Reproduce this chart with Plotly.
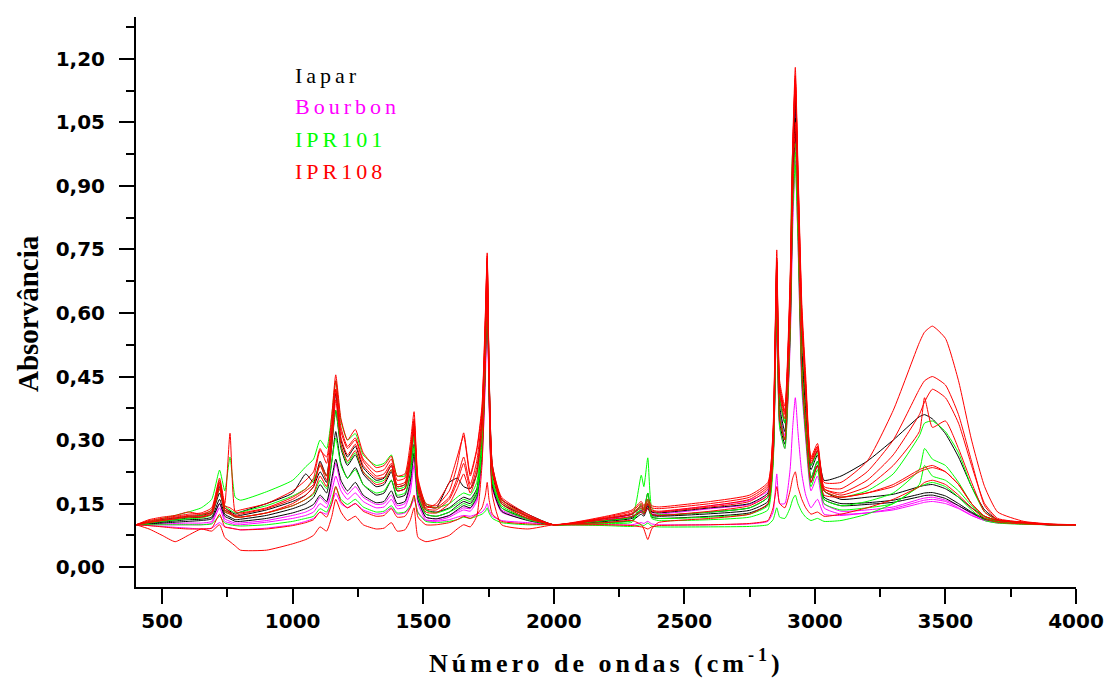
import plotly.graph_objects as go

# Wavenumber grid (cm-1)
WAVENUMBERS = [400, 450, 500, 550, 600, 650, 690, 720, 740, 760,
               780, 800, 900, 1000, 1050, 1080, 1105, 1130, 1150, 1165,
               1185, 1210, 1240, 1270, 1320, 1350, 1378, 1400, 1430, 1450,
               1465, 1480, 1510, 1550, 1600, 1630, 1655, 1680, 1705, 1725,
               1738, 1745, 1752, 1765, 1800, 1900, 2000, 2200, 2300, 2335,
               2345, 2360, 2375, 2400, 2600, 2750, 2820, 2840, 2854, 2865,
               2885, 2905, 2915, 2925, 2935, 2950, 2965, 2985, 3010, 3035,
               3100, 3200, 3300, 3400, 3420, 3450, 3500, 3550, 3600, 3650, 3700,
               3800, 3900, 4000]

# Bourbon (magenta)
BOURBON_1 = [0.100, 0.098, 0.096, 0.094, 0.092, 0.090, 0.092, 0.105, 0.095, 0.093,
             0.090, 0.088, 0.092, 0.100, 0.108, 0.115, 0.130, 0.125, 0.150, 0.175,
             0.150, 0.140, 0.150, 0.135, 0.125, 0.128, 0.140, 0.125, 0.128, 0.140,
             0.160, 0.130, 0.110, 0.108, 0.112, 0.118, 0.122, 0.120, 0.125, 0.130,
             0.140, 0.150, 0.135, 0.120, 0.110, 0.105, 0.100, 0.100, 0.100, 0.105,
             0.103, 0.108, 0.102, 0.100, 0.100, 0.102, 0.108, 0.130, 0.220, 0.150,
             0.150, 0.230, 0.330, 0.400, 0.320, 0.220, 0.170, 0.140, 0.160, 0.125,
             0.122, 0.128, 0.138, 0.155, 0.158, 0.160, 0.155, 0.140, 0.122, 0.110, 0.104,
             0.102, 0.100, 0.100]
BOURBON_2 = [0.100, 0.100, 0.100, 0.100, 0.100, 0.100, 0.104, 0.140, 0.108, 0.104,
             0.100, 0.100, 0.106, 0.115, 0.122, 0.130, 0.150, 0.140, 0.180, 0.215,
             0.180, 0.160, 0.175, 0.155, 0.140, 0.142, 0.160, 0.138, 0.142, 0.175,
             0.240, 0.150, 0.112, 0.110, 0.118, 0.128, 0.135, 0.132, 0.155, 0.250,
             0.440, 0.620, 0.400, 0.185, 0.130, 0.112, 0.100, 0.110, 0.120, 0.132,
             0.128, 0.138, 0.126, 0.125, 0.138, 0.148, 0.170, 0.260, 0.600, 0.330,
             0.280, 0.520, 0.800, 0.960, 0.770, 0.420, 0.300, 0.180, 0.215, 0.140,
             0.125, 0.128, 0.135, 0.150, 0.153, 0.155, 0.150, 0.138, 0.122, 0.110, 0.105,
             0.102, 0.100, 0.100]
BOURBON_3 = [0.100, 0.101, 0.102, 0.103, 0.104, 0.104, 0.108, 0.150, 0.114, 0.108,
             0.104, 0.104, 0.110, 0.122, 0.130, 0.140, 0.165, 0.150, 0.200, 0.245,
             0.195, 0.172, 0.190, 0.165, 0.148, 0.150, 0.170, 0.145, 0.150, 0.190,
             0.260, 0.160, 0.118, 0.114, 0.122, 0.132, 0.140, 0.138, 0.160, 0.265,
             0.470, 0.670, 0.420, 0.195, 0.135, 0.114, 0.100, 0.112, 0.125, 0.140,
             0.132, 0.145, 0.130, 0.130, 0.145, 0.158, 0.180, 0.290, 0.680, 0.370,
             0.310, 0.580, 0.900, 1.080, 0.860, 0.480, 0.350, 0.210, 0.240, 0.150,
             0.132, 0.135, 0.142, 0.160, 0.163, 0.165, 0.158, 0.145, 0.126, 0.112, 0.106,
             0.102, 0.100, 0.100]

# Iapar (black)
IAPAR_1 = [0.100, 0.104, 0.108, 0.112, 0.116, 0.118, 0.125, 0.175, 0.135, 0.128,
           0.120, 0.122, 0.135, 0.155, 0.170, 0.190, 0.225, 0.200, 0.290, 0.370,
           0.280, 0.240, 0.265, 0.220, 0.190, 0.195, 0.225, 0.180, 0.185, 0.240,
           0.315, 0.190, 0.135, 0.130, 0.140, 0.155, 0.165, 0.160, 0.185, 0.300,
           0.520, 0.690, 0.450, 0.220, 0.150, 0.120, 0.100, 0.110, 0.118, 0.135,
           0.128, 0.150, 0.125, 0.122, 0.130, 0.140, 0.165, 0.280, 0.680, 0.380,
           0.320, 0.600, 0.920, 1.100, 0.880, 0.500, 0.370, 0.230, 0.265, 0.180,
           0.160, 0.165, 0.172, 0.190, 0.193, 0.195, 0.185, 0.165, 0.140, 0.120, 0.110,
           0.104, 0.100, 0.100]
IAPAR_2 = [0.100, 0.106, 0.112, 0.116, 0.120, 0.122, 0.130, 0.190, 0.140, 0.132,
           0.125, 0.130, 0.150, 0.175, 0.220, 0.200, 0.250, 0.215, 0.320, 0.410,
           0.300, 0.260, 0.285, 0.235, 0.205, 0.210, 0.240, 0.190, 0.195, 0.250,
           0.330, 0.200, 0.145, 0.140, 0.200, 0.210, 0.190, 0.185, 0.220, 0.350,
           0.560, 0.700, 0.470, 0.240, 0.160, 0.125, 0.100, 0.115, 0.125, 0.145,
           0.135, 0.175, 0.130, 0.128, 0.140, 0.150, 0.175, 0.300, 0.700, 0.400,
           0.340, 0.620, 0.950, 1.120, 0.900, 0.520, 0.390, 0.240, 0.275, 0.205,
           0.215, 0.250, 0.300, 0.355, 0.360, 0.350, 0.315, 0.260, 0.190, 0.135, 0.112,
           0.105, 0.101, 0.100]
IAPAR_3 = [0.100, 0.103, 0.106, 0.109, 0.112, 0.113, 0.118, 0.160, 0.125, 0.118,
           0.112, 0.113, 0.122, 0.138, 0.150, 0.165, 0.195, 0.175, 0.250, 0.320,
           0.245, 0.210, 0.235, 0.195, 0.170, 0.175, 0.205, 0.165, 0.170, 0.220,
           0.290, 0.170, 0.125, 0.120, 0.130, 0.145, 0.155, 0.150, 0.175, 0.280,
           0.500, 0.680, 0.430, 0.200, 0.140, 0.115, 0.100, 0.108, 0.115, 0.130,
           0.125, 0.145, 0.122, 0.120, 0.126, 0.134, 0.155, 0.260, 0.650, 0.360,
           0.300, 0.570, 0.880, 1.060, 0.840, 0.470, 0.340, 0.210, 0.250, 0.165,
           0.150, 0.152, 0.158, 0.172, 0.175, 0.176, 0.168, 0.150, 0.130, 0.115, 0.108,
           0.103, 0.100, 0.100]
IAPAR_4 = [0.100, 0.102, 0.104, 0.106, 0.108, 0.110, 0.114, 0.150, 0.120, 0.114,
           0.108, 0.108, 0.115, 0.128, 0.138, 0.148, 0.170, 0.155, 0.210, 0.255,
           0.205, 0.180, 0.200, 0.170, 0.152, 0.155, 0.180, 0.150, 0.155, 0.200,
           0.270, 0.160, 0.118, 0.114, 0.122, 0.135, 0.145, 0.140, 0.165, 0.270,
           0.480, 0.660, 0.420, 0.190, 0.132, 0.110, 0.100, 0.105, 0.110, 0.125,
           0.120, 0.140, 0.118, 0.115, 0.120, 0.128, 0.148, 0.250, 0.620, 0.340,
           0.290, 0.550, 0.860, 1.030, 0.820, 0.450, 0.320, 0.200, 0.240, 0.160,
           0.145, 0.148, 0.153, 0.166, 0.169, 0.170, 0.162, 0.145, 0.128, 0.113, 0.107,
           0.103, 0.100, 0.100]

# IPR101 (green)
IPR101_1 = [0.100, 0.108, 0.115, 0.122, 0.130, 0.140, 0.160, 0.229, 0.180, 0.260,
            0.165, 0.158, 0.178, 0.205, 0.237, 0.255, 0.300, 0.280, 0.360, 0.440,
            0.345, 0.300, 0.315, 0.265, 0.240, 0.245, 0.265, 0.215, 0.215, 0.270,
            0.345, 0.200, 0.150, 0.140, 0.150, 0.165, 0.175, 0.170, 0.200, 0.320,
            0.540, 0.720, 0.460, 0.230, 0.155, 0.120, 0.100, 0.110, 0.120, 0.217,
            0.190, 0.258, 0.140, 0.125, 0.130, 0.140, 0.165, 0.290, 0.720, 0.400,
            0.340, 0.640, 0.980, 1.000, 0.880, 0.560, 0.400, 0.240, 0.270, 0.180,
            0.165, 0.180, 0.220, 0.310, 0.340, 0.345, 0.320, 0.270, 0.190, 0.130, 0.110,
            0.105, 0.101, 0.100]
IPR101_2 = [0.100, 0.105, 0.110, 0.114, 0.118, 0.122, 0.135, 0.200, 0.145, 0.135,
            0.128, 0.130, 0.145, 0.168, 0.185, 0.205, 0.240, 0.215, 0.300, 0.370,
            0.285, 0.245, 0.270, 0.225, 0.200, 0.205, 0.230, 0.185, 0.190, 0.240,
            0.310, 0.180, 0.135, 0.128, 0.138, 0.150, 0.160, 0.155, 0.180, 0.290,
            0.510, 0.690, 0.440, 0.210, 0.145, 0.115, 0.100, 0.105, 0.110, 0.150,
            0.135, 0.175, 0.120, 0.115, 0.118, 0.125, 0.145, 0.260, 0.660, 0.360,
            0.300, 0.580, 0.900, 0.980, 0.820, 0.480, 0.340, 0.210, 0.250, 0.160,
            0.145, 0.155, 0.175, 0.230, 0.280, 0.255, 0.240, 0.200, 0.150, 0.118, 0.108,
            0.103, 0.100, 0.100]
IPR101_3 = [0.100, 0.100, 0.100, 0.100, 0.100, 0.100, 0.102, 0.120, 0.104, 0.100,
            0.098, 0.097, 0.100, 0.108, 0.115, 0.120, 0.138, 0.130, 0.160, 0.190,
            0.160, 0.148, 0.160, 0.142, 0.130, 0.132, 0.145, 0.128, 0.130, 0.145,
            0.165, 0.128, 0.108, 0.105, 0.108, 0.112, 0.118, 0.115, 0.120, 0.125,
            0.132, 0.140, 0.128, 0.115, 0.105, 0.100, 0.100, 0.098, 0.096, 0.100,
            0.098, 0.104, 0.097, 0.095, 0.095, 0.096, 0.100, 0.112, 0.140, 0.118,
            0.115, 0.140, 0.160, 0.170, 0.150, 0.130, 0.118, 0.110, 0.115, 0.108,
            0.110, 0.125, 0.150, 0.190, 0.195, 0.200, 0.190, 0.165, 0.135, 0.110, 0.104,
            0.101, 0.100, 0.100]
IPR101_4 = [0.100, 0.104, 0.108, 0.111, 0.114, 0.116, 0.124, 0.185, 0.132, 0.125,
            0.118, 0.118, 0.128, 0.145, 0.160, 0.172, 0.205, 0.185, 0.250, 0.305,
            0.240, 0.210, 0.230, 0.195, 0.175, 0.180, 0.205, 0.170, 0.175, 0.215,
            0.285, 0.165, 0.125, 0.120, 0.130, 0.140, 0.150, 0.145, 0.170, 0.275,
            0.490, 0.670, 0.430, 0.200, 0.140, 0.112, 0.100, 0.103, 0.106, 0.140,
            0.128, 0.160, 0.115, 0.110, 0.112, 0.118, 0.135, 0.240, 0.620, 0.330,
            0.280, 0.540, 0.840, 0.950, 0.780, 0.440, 0.310, 0.190, 0.230, 0.150,
            0.135, 0.140, 0.150, 0.195, 0.240, 0.215, 0.205, 0.180, 0.145, 0.115, 0.106,
            0.102, 0.100, 0.100]

# IPR108 (red)
IPR108_1 = [0.100, 0.110, 0.115, 0.120, 0.125, 0.128, 0.140, 0.210, 0.150, 0.316,
            0.130, 0.128, 0.140, 0.165, 0.185, 0.210, 0.275, 0.260, 0.360, 0.454,
            0.350, 0.300, 0.325, 0.270, 0.235, 0.240, 0.262, 0.215, 0.220, 0.290,
            0.367, 0.210, 0.150, 0.145, 0.180, 0.240, 0.317, 0.220, 0.279, 0.380,
            0.600, 0.742, 0.480, 0.240, 0.165, 0.125, 0.100, 0.118, 0.132, 0.150,
            0.140, 0.155, 0.140, 0.138, 0.150, 0.165, 0.195, 0.330, 0.749, 0.440,
            0.380, 0.680, 1.000, 1.180, 0.950, 0.620, 0.450, 0.260, 0.292, 0.200,
            0.200, 0.250, 0.370, 0.530, 0.555, 0.569, 0.540, 0.440, 0.300, 0.190, 0.130,
            0.108, 0.102, 0.100]
IPR108_2 = [0.100, 0.108, 0.113, 0.118, 0.122, 0.125, 0.135, 0.205, 0.145, 0.140,
            0.132, 0.135, 0.150, 0.180, 0.205, 0.225, 0.280, 0.245, 0.340, 0.440,
            0.330, 0.285, 0.305, 0.255, 0.225, 0.230, 0.255, 0.205, 0.210, 0.270,
            0.350, 0.205, 0.145, 0.140, 0.165, 0.210, 0.260, 0.195, 0.250, 0.360,
            0.580, 0.730, 0.470, 0.235, 0.160, 0.122, 0.100, 0.120, 0.135, 0.155,
            0.145, 0.160, 0.145, 0.142, 0.155, 0.170, 0.200, 0.320, 0.730, 0.430,
            0.370, 0.660, 0.990, 1.150, 0.930, 0.600, 0.430, 0.255, 0.285, 0.190,
            0.185, 0.225, 0.300, 0.420, 0.440, 0.450, 0.430, 0.360, 0.250, 0.145, 0.112,
            0.106, 0.101, 0.100]
IPR108_3 = [0.100, 0.090, 0.075, 0.060, 0.075, 0.090, 0.085, 0.100, 0.070, 0.060,
            0.050, 0.040, 0.040, 0.055, 0.065, 0.075, 0.095, 0.085, 0.120, 0.160,
            0.130, 0.110, 0.120, 0.100, 0.090, 0.092, 0.105, 0.085, 0.088, 0.110,
            0.140, 0.070, 0.060, 0.065, 0.075, 0.090, 0.100, 0.095, 0.120, 0.240,
            0.470, 0.660, 0.410, 0.170, 0.100, 0.090, 0.100, 0.105, 0.110, 0.100,
            0.090, 0.065, 0.090, 0.105, 0.115, 0.125, 0.150, 0.260, 0.640, 0.350,
            0.300, 0.560, 0.870, 1.050, 0.830, 0.460, 0.330, 0.200, 0.240, 0.170,
            0.165, 0.175, 0.190, 0.225, 0.230, 0.235, 0.225, 0.195, 0.150, 0.120, 0.110,
            0.105, 0.100, 0.100]
IPR108_4 = [0.100, 0.112, 0.118, 0.122, 0.130, 0.125, 0.130, 0.200, 0.140, 0.130,
            0.120, 0.118, 0.128, 0.150, 0.170, 0.190, 0.245, 0.215, 0.320, 0.420,
            0.320, 0.280, 0.300, 0.250, 0.215, 0.220, 0.245, 0.195, 0.200, 0.265,
            0.345, 0.195, 0.140, 0.150, 0.200, 0.260, 0.310, 0.215, 0.275, 0.370,
            0.590, 0.735, 0.470, 0.230, 0.160, 0.120, 0.100, 0.115, 0.125, 0.140,
            0.130, 0.150, 0.132, 0.130, 0.142, 0.155, 0.185, 0.310, 0.720, 0.420,
            0.360, 0.650, 0.970, 1.150, 0.920, 0.590, 0.420, 0.250, 0.280, 0.185,
            0.170, 0.190, 0.240, 0.320, 0.400, 0.330, 0.345, 0.280, 0.200, 0.130, 0.112,
            0.106, 0.101, 0.100]
IPR108_5 = [0.100, 0.106, 0.110, 0.114, 0.118, 0.118, 0.125, 0.185, 0.130, 0.125,
            0.118, 0.118, 0.128, 0.145, 0.160, 0.175, 0.215, 0.190, 0.290, 0.395,
            0.290, 0.250, 0.275, 0.225, 0.195, 0.200, 0.230, 0.180, 0.185, 0.245,
            0.325, 0.180, 0.130, 0.128, 0.150, 0.185, 0.220, 0.175, 0.220, 0.320,
            0.560, 0.720, 0.460, 0.225, 0.150, 0.115, 0.100, 0.112, 0.120, 0.130,
            0.125, 0.140, 0.125, 0.122, 0.132, 0.145, 0.170, 0.300, 0.710, 0.410,
            0.350, 0.640, 0.960, 1.140, 0.910, 0.570, 0.400, 0.245, 0.275, 0.180,
            0.165, 0.175, 0.195, 0.230, 0.235, 0.240, 0.225, 0.195, 0.150, 0.120, 0.110,
            0.104, 0.100, 0.100]
IPR108_6 = [0.100, 0.098, 0.095, 0.092, 0.090, 0.090, 0.092, 0.125, 0.095, 0.092,
            0.090, 0.088, 0.090, 0.098, 0.105, 0.112, 0.130, 0.118, 0.150, 0.190,
            0.155, 0.140, 0.150, 0.132, 0.120, 0.122, 0.138, 0.118, 0.120, 0.140,
            0.170, 0.118, 0.100, 0.100, 0.105, 0.112, 0.120, 0.115, 0.125, 0.140,
            0.170, 0.200, 0.160, 0.125, 0.108, 0.102, 0.100, 0.100, 0.098, 0.095,
            0.094, 0.090, 0.095, 0.098, 0.100, 0.103, 0.110, 0.140, 0.190, 0.150,
            0.140, 0.180, 0.210, 0.225, 0.190, 0.160, 0.140, 0.125, 0.130, 0.120,
            0.125, 0.140, 0.160, 0.190, 0.200, 0.205, 0.195, 0.170, 0.140, 0.115, 0.106,
            0.102, 0.100, 0.100]
IPR108_7 = [0.100, 0.105, 0.110, 0.115, 0.120, 0.120, 0.128, 0.195, 0.135, 0.128,
            0.122, 0.125, 0.138, 0.160, 0.180, 0.195, 0.240, 0.205, 0.310, 0.420,
            0.305, 0.265, 0.290, 0.240, 0.210, 0.212, 0.240, 0.190, 0.195, 0.255,
            0.335, 0.190, 0.138, 0.135, 0.160, 0.200, 0.245, 0.185, 0.235, 0.340,
            0.575, 0.725, 0.465, 0.228, 0.155, 0.118, 0.100, 0.116, 0.128, 0.145,
            0.135, 0.150, 0.135, 0.132, 0.145, 0.160, 0.190, 0.315, 0.725, 0.425,
            0.365, 0.655, 0.975, 1.160, 0.935, 0.600, 0.430, 0.255, 0.285, 0.185,
            0.175, 0.205, 0.265, 0.360, 0.390, 0.420, 0.400, 0.340, 0.240, 0.150, 0.115,
            0.106, 0.101, 0.100]

VARIETIES = ["Iapar", "Bourbon", "IPR101", "IPR108"]
COLORS = {"Iapar": "#000000", "Bourbon": "#FF00FF", "IPR101": "#00FF00", "IPR108": "#FF0000"}
SPECTRA = {
    "Bourbon": [BOURBON_1, BOURBON_2, BOURBON_3],
    "Iapar": [IAPAR_1, IAPAR_2, IAPAR_3, IAPAR_4],
    "IPR101": [IPR101_1, IPR101_2, IPR101_3, IPR101_4],
    "IPR108": [IPR108_1, IPR108_2, IPR108_3, IPR108_4, IPR108_5, IPR108_6, IPR108_7],
}
DRAW_ORDER = ["Bourbon", "Iapar", "IPR101", "IPR108"]

fig = go.Figure()
for var in DRAW_ORDER:
    for ys in SPECTRA[var]:
        assert len(ys) == len(WAVENUMBERS), (var, len(ys))
        fig.add_trace(go.Scatter(x=WAVENUMBERS, y=ys, mode="lines",
                                 line=dict(color=COLORS[var], width=1,
                                           shape="spline", smoothing=0.5),
                                 showlegend=False, hoverinfo="skip"))

tick_font = dict(family="DejaVu Sans", size=20, color="black", weight="bold")
axis_common = dict(showline=True, linecolor="black", linewidth=2, ticks="outside",
                   ticklen=15, tickwidth=2, tickcolor="black", showgrid=False,
                   zeroline=False, mirror=False, tickfont=tick_font, automargin=False)

fig.update_xaxes(range=[400, 4000], tick0=500, dtick=500, ticklabelstandoff=0,
                 minor=dict(ticks="outside", ticklen=8, tickwidth=2, tickcolor="black",
                            tick0=250, dtick=250, showgrid=False),
                 **axis_common)
fig.update_yaxes(range=[-0.047, 1.299], tick0=0, dtick=0.15, tickformat=".2f",
                 ticklabelstandoff=10,
                 minor=dict(ticks="outside", ticklen=8, tickwidth=2, tickcolor="black",
                            tick0=0.075, dtick=0.15, showgrid=False),
                 **axis_common)

annotations = []
legend_y = [1.162, 1.087, 1.009, 0.935]
for name, yv in zip(VARIETIES, legend_y):
    annotations.append(dict(x=1000, y=yv, xref="x", yref="y", xanchor="left", yanchor="middle",
                            showarrow=False,
                            text=f'<span style="letter-spacing:4px">{name}</span>',
                            font=dict(family="Liberation Serif", size=22, color=COLORS[name])))

# axis titles placed in pixel terms, converted to paper coords
W, H = 1110, 679
L, R, T, B = 136, 34, 17, 92
pw, ph = W - L - R, H - T - B
annotations.append(dict(x=(28 - L) / pw, y=(H - B - 314) / ph, xref="paper", yref="paper",
                        xanchor="center", yanchor="middle", showarrow=False,
                        textangle=-90, text="<b>Absorvância</b>",
                        font=dict(family="Liberation Serif", size=29, color="black")))
annotations.append(dict(x=(606 - L) / pw, y=(H - B - 661) / ph, xref="paper", yref="paper",
                        xanchor="center", yanchor="middle", showarrow=False,
                        text='<b><span style="letter-spacing:4px">Número de ondas (cm<sup>-1</sup>)</span></b>',
                        font=dict(family="Liberation Serif", size=26, color="black")))

fig.update_layout(width=W, height=H, margin=dict(l=L, r=R, t=T, b=B),
                  plot_bgcolor="white", paper_bgcolor="white",
                  separators=",.", annotations=annotations, showlegend=False)

fig.write_html("out.html")
